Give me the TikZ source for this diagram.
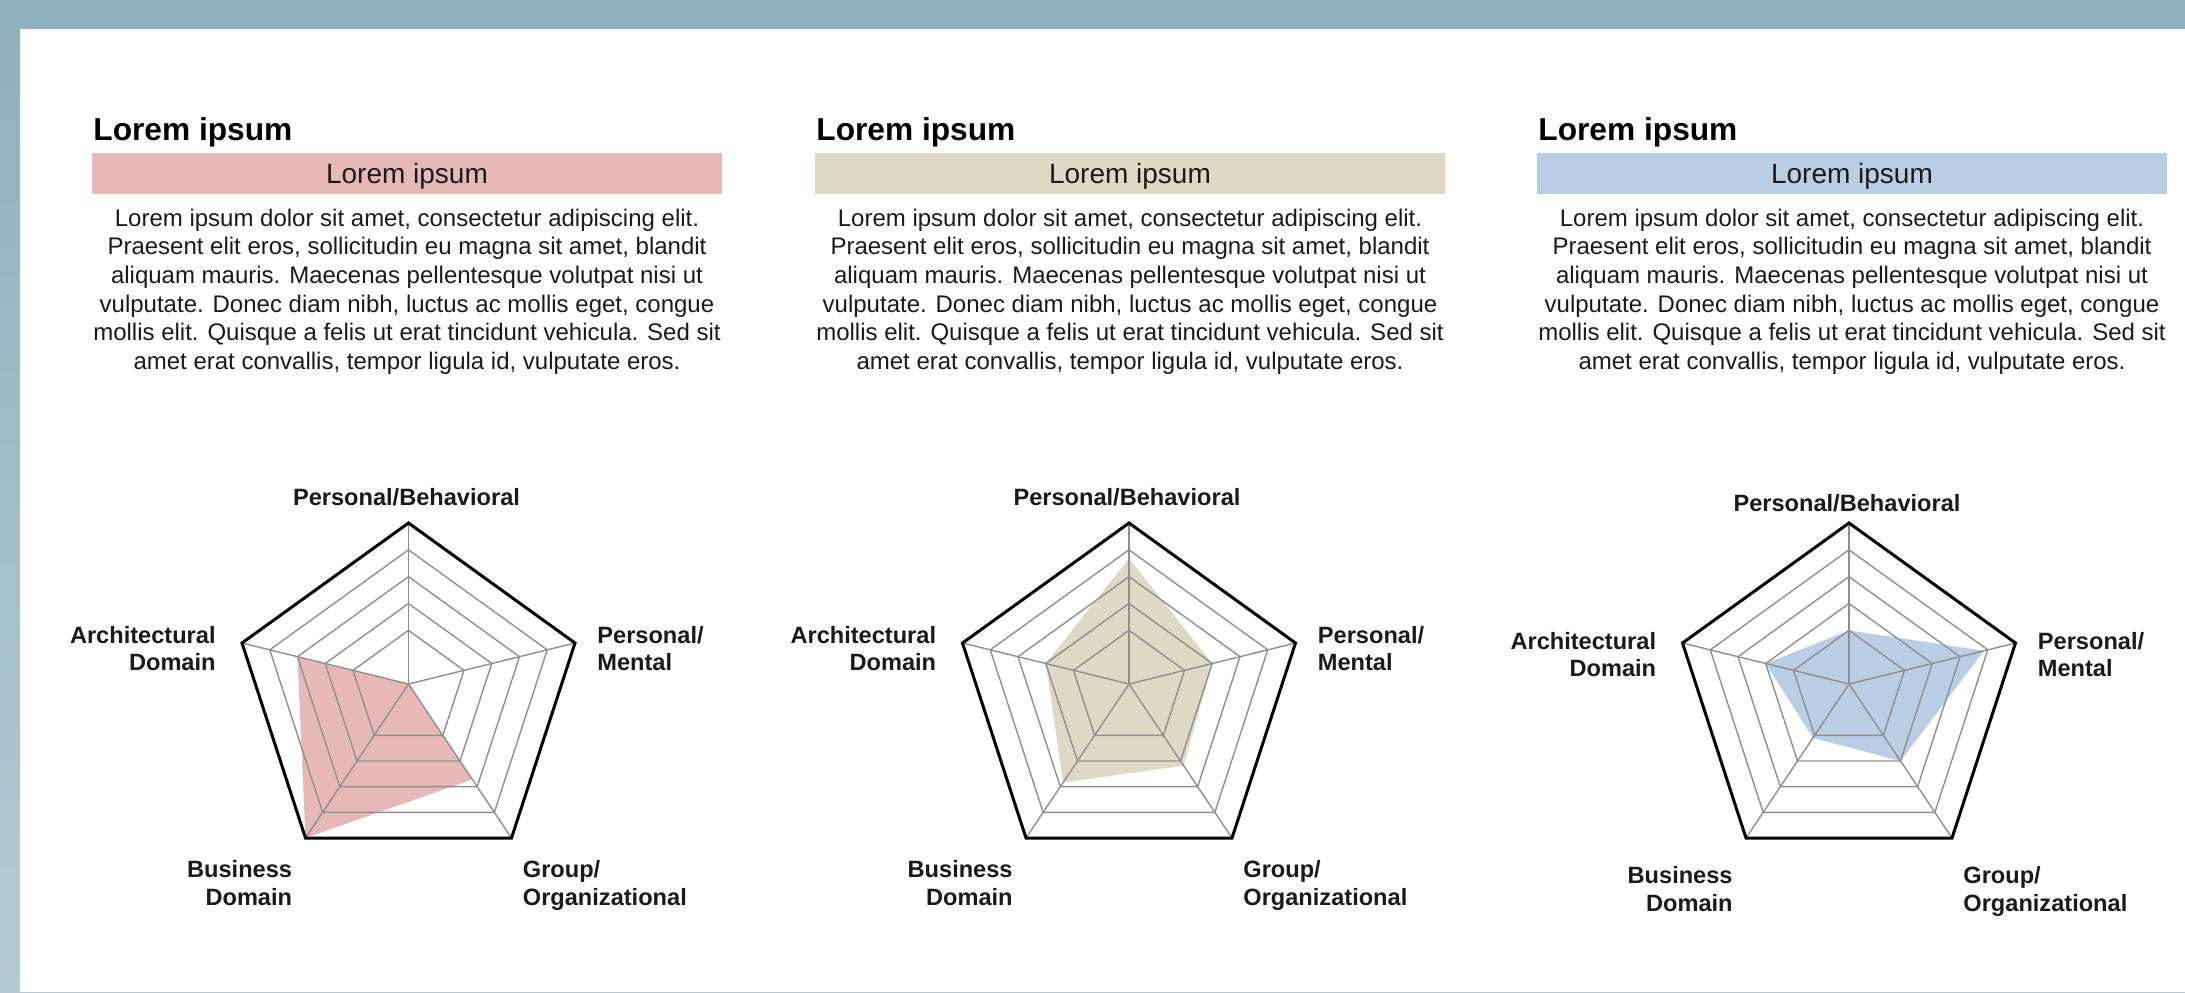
\documentclass[tikz,border=0pt]{standalone}
\usepackage{fontspec}
\setmainfont{Liberation Sans}
\usetikzlibrary{calc}
\definecolor{bgtop}{HTML}{8EAFC0}
\definecolor{bgbot}{HTML}{B4CBD6}
\definecolor{pinkc}{HTML}{E6B9B8}
\definecolor{tanc}{HTML}{DDD9C4}
\definecolor{bluec}{HTML}{B9CDE5}
\definecolor{gridc}{HTML}{8F8F8F}
\definecolor{txt}{HTML}{1A1A1A}
\tikzset{
  gridline/.style={draw=gridc, line width=0.7pt, line join=miter},
  outerline/.style={draw=black, line width=1.5pt, line join=miter},
  lab/.style={font=\fontsize{11.8}{13.7}\selectfont\bfseries, text=txt, inner sep=0pt},
  ttl/.style={font=\fontsize{15.85}{19}\selectfont\bfseries, text=black, inner sep=0pt, anchor=base west},
  barbox/.style={minimum width=315pt, minimum height=20.5pt, inner sep=0pt, text depth=0pt,
                 font=\fontsize{14}{16}\selectfont, text=txt},
  bodytext/.style={font=\fontsize{12}{14.35}\selectfont, text=txt, inner sep=0pt, align=center, anchor=base}
}
% multi-line nodes: the base anchor is the baseline of the last line
\newcommand{\radarchart}[9]{%
  \coordinate (#1c) at (#2,684);
  \coordinate (#1v1) at (#2,523);
  \coordinate (#1v2) at ({#2+166.5},643);
  \coordinate (#1v3) at ({#2+103},838);
  \coordinate (#1v4) at ({#2-103},838);
  \coordinate (#1v5) at ({#2-166.5},643);
  \fill[#4] ($(#1c)!#5!(#1v1)$) -- ($(#1c)!#6!(#1v2)$) -- ($(#1c)!#7!(#1v3)$)
        -- ($(#1c)!#8!(#1v4)$) -- ($(#1c)!#9!(#1v5)$) -- cycle;
  \foreach \f in {0.3333,0.5,0.6667,0.8333}{
    \draw[gridline] ($(#1c)!\f!(#1v1)$) -- ($(#1c)!\f!(#1v2)$) -- ($(#1c)!\f!(#1v3)$)
        -- ($(#1c)!\f!(#1v4)$) -- ($(#1c)!\f!(#1v5)$) -- cycle;
  }
  \foreach \i in {1,...,5}{ \draw[gridline] (#1c) -- (#1v\i); }
  \draw[outerline] (#1v1) -- (#1v2) -- (#1v3) -- (#1v4) -- (#1v5) -- cycle;
  \node[lab, anchor=base] (#1lt) at ({#2-2},{505+#3}) {Personal/Behavioral};
  \node[lab, anchor=base east, align=right] (#1la) at ({#2-192.5},{670.7+#3}) {Architectural\\Domain};
  \node[lab, anchor=base west, align=left] (#1lp) at ({#2+188.5},{670.7+#3}) {Personal/\\Mental};
  \node[lab, anchor=base east, align=right] (#1lb) at ({#2-116},{905+#3}) {Business\\Domain};
  \node[lab, anchor=base west, align=left] (#1lg) at ({#2+114},{905+#3}) {Group/\\Organizational};
}
\newcommand{\textcolumn}[3]{% #1 prefix, #2 left x, #3 bar colour
  \node[ttl] (#1t) at ({#2+1},140) {Lorem ipsum};
  \node[barbox, fill=#3, anchor=center] (#1bar) at ({#2+315},173.5) {Lorem ipsum};
  \node[bodytext] (#1body) at ({#2+315},369.5) {Lorem ipsum dolor sit amet, consectetur adipiscing elit.\\
    Praesent elit eros, sollicitudin eu magna sit amet, blandit\\
    aliquam mauris. Maecenas pellentesque volutpat nisi ut\\
    vulputate. Donec diam nibh, luctus ac mollis eget, congue\\
    mollis elit. Quisque a felis ut erat tincidunt vehicula. Sed sit\\
    amet erat convallis, tempor ligula id, vulputate eros.};
}
\begin{document}
\begin{tikzpicture}[x=0.5pt, y=-0.5pt]
  \useasboundingbox (0,0) rectangle (2185,992);
  \fill[top color=bgtop, bottom color=bgbot] (0,0) rectangle (2185,992);
  \fill[white] (20,29) rectangle (2185,992);
  \textcolumn{a}{92}{pinkc}
  \textcolumn{b}{815}{tanc}
  \textcolumn{d}{1537}{bluec}
  \radarchart{ra}{408.5}{0}{pinkc}{0}{0}{0.62}{1}{0.667}
  \radarchart{rb}{1129}{0}{tanc}{0.78}{0.5}{0.53}{0.64}{0.5}
  \radarchart{rd}{1849}{6}{bluec}{0.333}{0.81}{0.5}{0.35}{0.5}
\end{tikzpicture}
\end{document}
